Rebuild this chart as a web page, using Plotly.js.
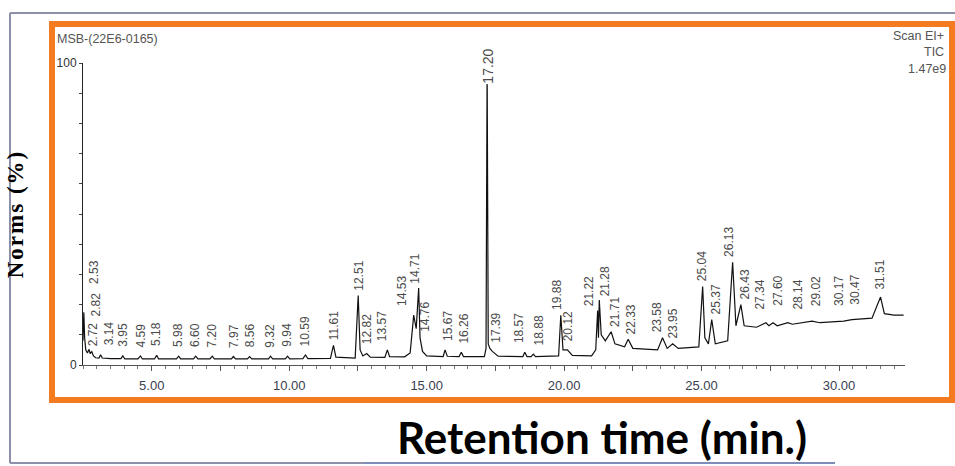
<!DOCTYPE html>
<html><head><meta charset="utf-8">
<script src="https://cdn.plot.ly/plotly-3.0.1.min.js"></script>
<style>html,body{margin:0;padding:0;background:#fff}#chart{width:955px;height:466px}</style>
</head><body><div id="chart"></div>
<script>
// ---- data ----
const retentionTime = [
 2.50,2.53,2.56,2.60,2.66,2.72,2.76,2.82,2.88,2.96,3.08,3.14,3.20,3.50,3.88,3.95,4.02,4.50,4.59,4.66,
 5.10,5.18,5.25,5.90,5.98,6.05,6.52,6.60,6.68,7.12,7.20,7.28,7.90,7.97,8.05,8.48,8.56,8.64,9.25,9.32,
 9.40,9.86,9.94,10.02,10.50,10.59,10.68,11.50,11.61,11.70,12.40,12.51,12.58,12.68,12.82,12.95,13.48,13.57,13.65,14.20,
 14.40,14.53,14.62,14.71,14.76,14.85,15.00,15.60,15.67,15.75,16.18,16.26,16.34,17.10,17.16,17.20,17.24,17.30,17.39,17.60,18.50,18.57,
 18.65,18.80,18.88,18.96,19.80,19.88,19.96,20.12,20.30,21.00,21.15,21.22,21.25,21.28,21.35,21.50,21.71,21.85,22.20,22.33,
 22.50,23.40,23.58,23.75,23.95,24.15,24.90,25.04,25.12,25.25,25.37,25.50,25.95,26.13,26.25,26.43,26.55,27.00,27.34,27.45,
 27.60,27.75,28.14,28.30,29.02,29.30,30.17,30.47,31.20,31.51,31.65,32.00,32.35
];
const abundance = [
 8,17.5,9,5,4,5.2,3.8,4.4,3.0,2.4,2.3,3.4,2.3,2.1,2.1,3.0,2.0,2.0,3.0,2.0,
 2.0,3.2,2.0,2.0,2.9,2.0,2.0,2.9,2.0,2.0,2.9,2.0,2.0,2.8,2.0,2.0,2.8,2.0,2.0,2.9,
 2.0,2.0,2.9,2.0,2.1,3.3,2.1,2.2,6.5,2.6,2.3,23,5,3,3.8,2.6,2.5,5,2.8,2.7,
 4,16.5,12,25.5,9,4.5,3,2.8,5,2.9,2.8,4.2,2.8,2.8,5.5,100,7,5.5,4.5,2.9,2.8,4.2,
 2.8,2.8,3.6,2.8,3,16.5,5,5,3.2,3.0,5,18,9,21.5,10,8,11,7,6,8.5,
 5.5,5,9,5.5,7,5.5,6,26,9,7,15,7,8,34,13,20,13,12.5,14,13,
 14,13,14,13.5,14.5,14,14.5,15,15.5,22.5,17,16.5,16.5
];
const peakLabels = ['2.53','2.72','2.82','3.14','3.95','4.59','5.18','5.98','6.60','7.20','7.97','8.56','9.32','9.94','10.59','11.61',
 '12.51','12.82','13.57','14.53','14.71','14.76','15.67','16.26','17.20','17.39','18.57','18.88','19.88','20.12','21.22','21.28',
 '21.71','22.33','23.58','23.95','25.04','25.37','26.13','26.43','27.34','27.60','28.14','29.02','30.17','30.47','31.51'];
const xTickValues = [5,7.5,10,12.5,15,17.5,20,22.5,25,27.5,30];
const xTickLabels = ['5.00','','10.00','','15.00','','20.00','','25.00','','30.00'];
const yTickValues = [0,10,20,30,40,50,60,70,80,90,100];
const yTickLabels = ['0','','','','','','','','','','100'];

// ---- layout helpers (pixel -> paper) ----
const L=83,R=905,T=63,B=365;
const px = x => (x-L)/(R-L);
const py = y => (B-y)/(B-T);

function apexOf(t){
  let best=0;
  retentionTime.forEach((r,i)=>{ if(Math.abs(r-t)<=0.031 && abundance[i]>best) best=abundance[i]; });
  return best;
}
// label nudges (xshift, yshift in px) where the software moved labels to avoid overlap
const labelShift = {'2.53':[10,27],'2.82':[4,34],'2.72':[4,2],'3.14':[8,8],'17.20':[0,-22],
 '13.57':[-5,8],'14.53':[-12,8],'14.71':[-4,3],'14.76':[5,5],'15.67':[3,8],'16.26':[3,8],'17.39':[4,8],
 '18.57':[-5,8],'18.88':[6,8],'19.88':[-4,4],'21.22':[-9,3],'21.28':[6,3],'21.71':[4,4],'22.33':[3,4],
 '23.58':[-6,4],'25.37':[4,4],'26.13':[-3,4],'26.43':[4,4],'27.34':[-6,12],'27.60':[5,16],'28.14':[10,12],
 '29.02':[4,14],'30.17':[-4,14],'30.47':[3,14],'31.51':[0,6]};

const annotations = peakLabels.map(s=>{
  const t=parseFloat(s);
  const a=apexOf(t);
  const sh=labelShift[s]||[0, a<6?8:4];
  return {x:t,y:a,xref:'x',yref:'y',text:s,textangle:-90,showarrow:false,
    xanchor:'center',yanchor:'bottom',xshift:sh[0],yshift:sh[1],
    font:{family:'Liberation Sans, Arial, sans-serif',size:s==='17.20'?14:12,color:'#4a4a4a'},
    bgcolor: s==='17.20'?'#ffffff':'rgba(0,0,0,0)',borderpad:0};
});
const small = {family:'Liberation Sans, Arial, sans-serif',size:12.5,color:'#555'};
annotations.push(
 {xref:'paper',yref:'paper',x:px(55),y:py(39),xanchor:'left',yanchor:'middle',showarrow:false,text:'MSB-(22E6-0165)',font:small},
 {xref:'paper',yref:'paper',x:px(946),y:py(36),xanchor:'right',yanchor:'middle',showarrow:false,text:'Scan EI+',font:small},
 {xref:'paper',yref:'paper',x:px(946),y:py(52),xanchor:'right',yanchor:'middle',showarrow:false,text:'TIC',font:small},
 {xref:'paper',yref:'paper',x:px(948),y:py(69),xanchor:'right',yanchor:'middle',showarrow:false,text:'1.47e9',font:small},
 {xref:'paper',yref:'paper',x:px(602),y:py(437),xanchor:'center',yanchor:'middle',showarrow:false,text:'<b>Retention time (min.)</b>',font:{family:'Lato, Open Sans, sans-serif',size:44,color:'#000'}}
);

const shapes = [
 {type:'rect',xref:'paper',yref:'paper',x0:px(52),x1:px(952),y0:py(400),y1:py(24),line:{color:'#F47B20',width:6}},
 {type:'line',xref:'paper',yref:'paper',x0:px(10),x1:px(956),y0:py(13),y1:py(13),line:{color:'#8C90A8',width:2}},
 {type:'line',xref:'paper',yref:'paper',x0:px(10),x1:px(10),y0:py(13),y1:py(463),line:{color:'#8C90A8',width:2}},
 {type:'line',xref:'paper',yref:'paper',x0:px(10),x1:px(365),y0:py(463),y1:py(463),line:{color:'#8C90A8',width:2}},
 {type:'line',xref:'paper',yref:'paper',x0:px(365),x1:px(835),y0:py(463),y1:py(463),line:{color:'#7D8CB8',width:2}}
];

const trace = {x:retentionTime,y:abundance,type:'scatter',mode:'lines',line:{color:'#111',width:1.2},hoverinfo:'x+y',cliponaxis:true};

const layout = {
  width:955,height:466,margin:{l:L,r:955-R,t:T,b:466-B},
  paper_bgcolor:'#fff',plot_bgcolor:'#fff',showlegend:false,
  xaxis:{range:[2.5,32.4],showgrid:false,zeroline:false,showline:true,linecolor:'#555',linewidth:1,
    tickmode:'array',tickvals:xTickValues,ticktext:xTickLabels,ticks:'outside',ticklen:5,tickcolor:'#555',
    minor:{dtick:0.5,ticks:'outside',ticklen:3,tickcolor:'#777'},ticklabelstandoff:3,
    tickfont:{family:'Liberation Sans Narrow, Liberation Sans, sans-serif',size:13,color:'#3a4050'}},
  yaxis:{range:[0,100],showgrid:false,zeroline:false,showline:true,linecolor:'#222',linewidth:1,
    tickmode:'array',tickvals:yTickValues,ticktext:yTickLabels,ticks:'outside',ticklen:3,tickcolor:'#444',
    tickfont:{family:'Liberation Sans Narrow, Liberation Sans, sans-serif',size:12,color:'#333'},
    title:{text:'<b>Norms (%)</b>',standoff:26,font:{family:'Liberation Serif, Times New Roman, serif',size:23,color:'#000'}}},
  annotations:annotations,shapes:shapes
};
Plotly.newPlot('chart',[trace],layout,{displayModeBar:false,staticPlot:true}).then(()=>{
  const yt=document.querySelector('.ytitle'); if(yt) yt.style.letterSpacing='2px';
});
</script></body></html>
